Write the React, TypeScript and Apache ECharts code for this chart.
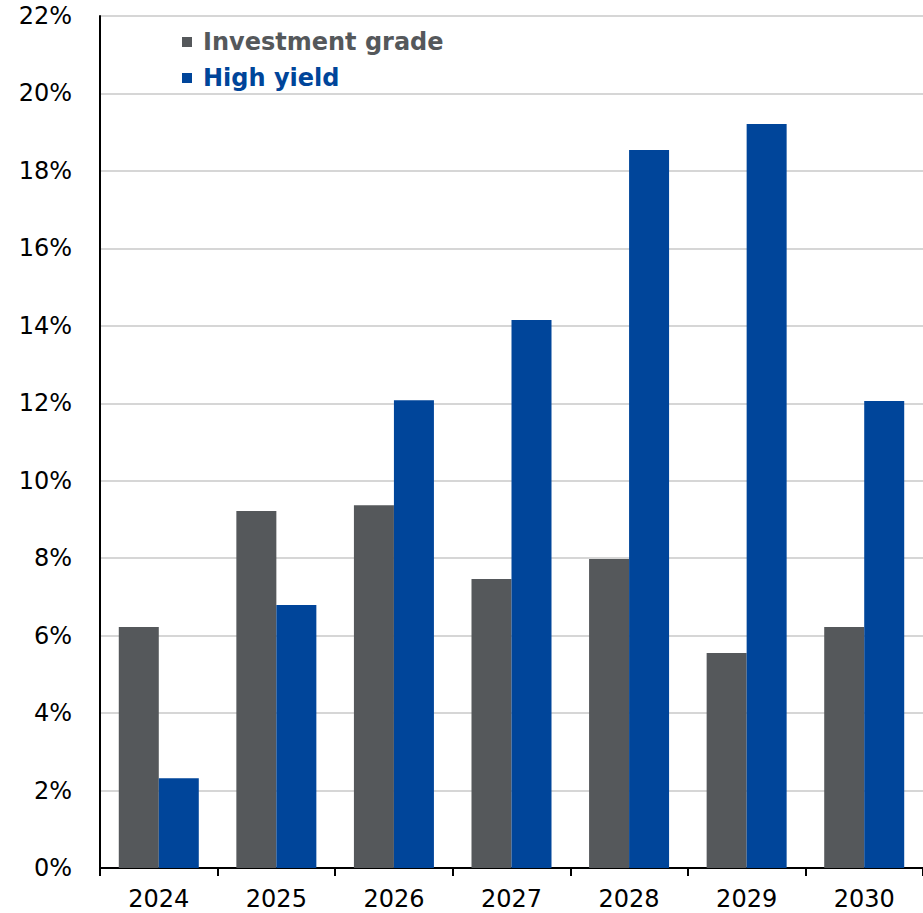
import React, { useEffect, useRef } from "react";
import * as echarts from "echarts";

const years = ["2024", "2025", "2026", "2027", "2028", "2029", "2030"];
const investmentGrade = [6.22, 9.22, 9.37, 7.46, 7.98, 5.55, 6.22];
const highYield = [2.32, 6.79, 12.08, 14.15, 18.54, 19.21, 12.06];
const seriesNames = ["Investment grade", "High yield"];
const colors = ["#55585B", "#00459A"];
const FONT = "DejaVu Sans";

export default function App() {
  const ref = useRef<HTMLDivElement>(null);
  useEffect(() => {
    if (!ref.current) return;
    const chart = echarts.init(ref.current, null, { renderer: "svg" });
    chart.setOption({
      animation: false,
      backgroundColor: "#ffffff",
      grid: { left: 100, right: 0, top: 16, bottom: 45, containLabel: false },
      legend: {
        orient: "vertical",
        left: 182,
        top: 30,
        padding: 0,
        itemWidth: 10,
        itemHeight: 10,
        itemGap: 12,
        icon: "rect",
        data: [
          { name: seriesNames[0], textStyle: { color: colors[0] } },
          { name: seriesNames[1], textStyle: { color: colors[1] } },
        ],
        textStyle: {
          fontFamily: FONT,
          fontWeight: "bold",
          fontSize: 24,
          lineHeight: 24,
          padding: [0, 0, 0, 6],
        },
      },
      xAxis: {
        type: "category",
        data: years,
        axisLine: { lineStyle: { color: "#000", width: 2 } },
        axisTick: { show: true, length: 8, lineStyle: { color: "#000", width: 2 } },
        axisLabel: { color: "#000", fontFamily: FONT, fontSize: 24, margin: 19 },
      },
      yAxis: {
        type: "value",
        min: 0,
        max: 22,
        interval: 2,
        axisLine: { show: true, lineStyle: { color: "#000", width: 2 } },
        axisTick: { show: false },
        axisLabel: {
          color: "#000",
          fontFamily: FONT,
          fontSize: 24,
          margin: 28,
          formatter: (v: number) => `${v}%`,
        },
        splitLine: { lineStyle: { color: "#c8c8c8", width: 1.5 } },
      },
      series: [
        {
          name: seriesNames[0],
          type: "bar",
          data: investmentGrade,
          barWidth: 40,
          barGap: "0%",
          itemStyle: { color: colors[0] },
        },
        {
          name: seriesNames[1],
          type: "bar",
          data: highYield,
          barWidth: 40,
          barGap: "0%",
          itemStyle: { color: colors[1] },
        },
      ],
    });
    return () => chart.dispose();
  }, []);
  return (
    <div
      ref={ref}
      style={{ position: "fixed", left: 0, top: 0, width: 923, height: 913 }}
    />
  );
}
